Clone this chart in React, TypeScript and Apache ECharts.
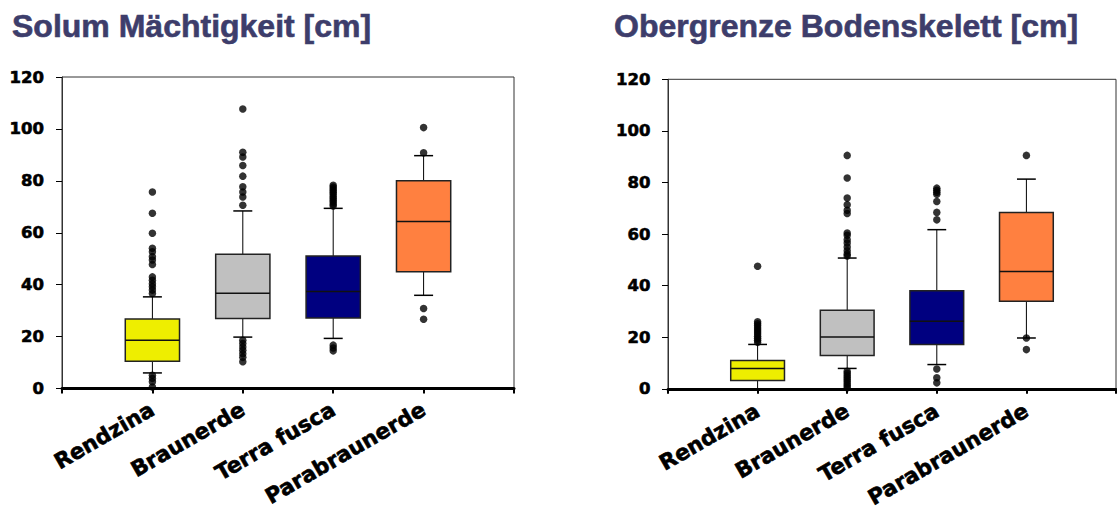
import React, { useEffect, useRef } from "react";
import * as echarts from "echarts";

// Categories (first and last are empty slots, as in the original Excel-style box plot)
const categories = ["", "Rendzina", "Braunerde", "Terra fusca", "Parabraunerde", ""];

// Box statistics: [min (lower whisker), Q1, median, Q3, max (upper whisker)]
const solumBoxes = [
  [6, 10.5, 18.6, 26.8, 35.3],
  [19.8, 27, 36.7, 51.7, 68.4],
  [19.3, 27.2, 37.4, 51, 69.4],
  [35.9, 45, 64.3, 80, 89.7],
];
const solumOutliers = [
  [75.7, 67.5, 59.8, 54, 52.7, 50.8, 49.5, 47.8, 43, 41.7, 40.4, 39.2, 37.9, 36.6, 5.1, 3.9, 2.6, 0.6],
  [107.7, 91, 89.2, 85.9, 81.8, 77.7, 75.7, 73.8, 70.6, 18.6, 17.3, 16, 14.7, 13.4, 12, 10.3],
  [78.3, 77.6, 76.9, 76.2, 75.5, 74.8, 74, 73.3, 72.5, 71.8, 71, 70.3, 16.7, 15.6, 14.5],
  [100.5, 90.8, 30.8, 26.7],
];

const skelettBoxes = [
  [0, 3.2, 7.9, 11, 17.2],
  [7.9, 12.9, 20.1, 30.5, 50.7],
  [9.4, 17.2, 26.2, 38, 61.7],
  [19.7, 33.9, 45.5, 68.4, 81.3],
];
const skelettOutliers = [
  [47.5, 26, 25.2, 24.4, 23.6, 22.8, 22, 21.2, 20.4, 19.6, 18.8, 18],
  [90.5, 81.7, 74, 71.4, 69.2, 68, 60.4, 59.5, 57.8, 56.5, 55, 53.5, 52.3, 51.5, 6.8, 6, 5.2, 4.4, 3.6, 2.8, 2, 1.2, 0.4],
  [77.8, 77, 76.2, 75.4, 72.6, 68.4, 65.5, 7.7, 4.3, 2.3],
  [90.5, 19.7, 15.2],
];

const titles = ["Solum Mächtigkeit [cm]", "Obergrenze Bodenskelett [cm]"];
const yTicks = { min: 0, max: 120, interval: 20 };

const boxColors = ["#EEEE00", "#C0C0C0", "#000080", "#FF8040"];

function renderBox(params: any, api: any) {
  const x = api.value(0);
  const lo = api.coord([x, api.value(1)]);
  const q1 = api.coord([x, api.value(2)]);
  const med = api.coord([x, api.value(3)]);
  const q3 = api.coord([x, api.value(4)]);
  const hi = api.coord([x, api.value(5)]);
  const band = api.size([1, 0])[0];
  const bw = band * 0.6;
  const cw = band * 0.21;
  const cx = lo[0];
  const ls = { stroke: "#000", lineWidth: 1 };
  return {
    type: "group",
    children: [
      { type: "line", shape: { x1: cx, y1: hi[1], x2: cx, y2: q3[1] }, style: ls },
      { type: "line", shape: { x1: cx, y1: q1[1], x2: cx, y2: lo[1] }, style: ls },
      { type: "line", shape: { x1: cx - cw / 2, y1: hi[1], x2: cx + cw / 2, y2: hi[1] }, style: { stroke: "#000", lineWidth: 1.5 } },
      { type: "line", shape: { x1: cx - cw / 2, y1: lo[1], x2: cx + cw / 2, y2: lo[1] }, style: { stroke: "#000", lineWidth: 1.5 } },
      {
        type: "rect",
        shape: { x: cx - bw / 2, y: q3[1], width: bw, height: q1[1] - q3[1] },
        style: { fill: boxColors[params.dataIndex], stroke: "#222", lineWidth: 1.5 },
      },
      { type: "line", shape: { x1: cx - bw / 2, y1: med[1], x2: cx + bw / 2, y2: med[1] }, style: { stroke: "#111", lineWidth: 1.5 } },
    ],
  };
}

function boxData(boxes: number[][]) {
  return boxes.map((b, i) => [i + 1, ...b]);
}
function outlierData(outs: number[][]) {
  return outs.flatMap((arr, i) => arr.map((v) => [i + 1, v]));
}

function xAxisFor(gridIndex: number, margin: number) {
  return {
    gridIndex,
    type: "category",
    data: categories,
    boundaryGap: false,
    axisLine: { show: true, lineStyle: { color: "#000", width: 3 } },
    axisTick: { show: true, length: 5, lineStyle: { color: "#000", width: 2 } },
    axisLabel: {
      interval: 0,
      rotate: 30,
      margin,
      fontFamily: "DejaVu Sans",
      fontWeight: "bold",
      fontSize: 21.5,
      color: "#000",
      textBorderColor: "#000",
      textBorderWidth: 0.6,
    },
    splitLine: { show: false },
  };
}

function yAxisFor(gridIndex: number, margin: number) {
  return {
    gridIndex,
    type: "value",
    min: yTicks.min,
    max: yTicks.max,
    interval: yTicks.interval,
    axisLine: { show: true, lineStyle: { color: "#333", width: 1 } },
    axisTick: { show: true, length: 6, lineStyle: { color: "#000", width: 1 } },
    axisLabel: {
      margin,
      fontFamily: "DejaVu Sans",
      fontWeight: "bold",
      fontSize: 16.5,
      color: "#000",
      textBorderColor: "#000",
      textBorderWidth: 0.6,
      padding: [0, 0, 7, 0],
    },
    splitLine: { show: false },
  };
}

export default function App() {
  const ref = useRef<HTMLDivElement>(null);
  useEffect(() => {
    if (!ref.current) return;
    const chart = echarts.init(ref.current, null, { renderer: "svg" });
    const titleStyle = {
      fontFamily: "Liberation Sans",
      fontWeight: "bold",
      fontSize: 32,
      color: "#3d3d6b",
      textBorderColor: "#3d3d6b",
      textBorderWidth: 0.6,
    };
    chart.setOption({
      animation: false,
      backgroundColor: "#fff",
      title: [
        { text: titles[0], left: 12, top: 10, padding: 0, textStyle: titleStyle },
        { text: titles[1], left: 614, top: 10, padding: 0, textStyle: titleStyle },
      ],
      grid: [
        { left: 62, top: 77, width: 452, height: 311.5, show: true, borderColor: "#333", borderWidth: 1, outerBoundsMode: "none", containLabel: false },
        { left: 668, top: 79.3, width: 448, height: 309.5, show: true, borderColor: "#333", borderWidth: 1, outerBoundsMode: "none", containLabel: false },
      ],
      xAxis: [xAxisFor(0, 19), xAxisFor(1, 20)],
      yAxis: [yAxisFor(0, 18), yAxisFor(1, 17.5)],
      series: [
        {
          type: "custom",
          xAxisIndex: 0,
          yAxisIndex: 0,
          renderItem: renderBox,
          encode: { x: 0, y: [1, 2, 3, 4, 5] },
          data: boxData(solumBoxes),
          z: 2,
        },
        {
          type: "scatter",
          xAxisIndex: 0,
          yAxisIndex: 0,
          symbol: "circle",
          symbolSize: 7.5,
          itemStyle: { color: "#000" },
          data: outlierData(solumOutliers),
          z: 3,
        },
        {
          type: "custom",
          xAxisIndex: 1,
          yAxisIndex: 1,
          renderItem: renderBox,
          encode: { x: 0, y: [1, 2, 3, 4, 5] },
          data: boxData(skelettBoxes),
          z: 2,
        },
        {
          type: "scatter",
          xAxisIndex: 1,
          yAxisIndex: 1,
          symbol: "circle",
          symbolSize: 7.5,
          itemStyle: { color: "#000" },
          data: outlierData(skelettOutliers),
          z: 3,
        },
      ],
    });
    return () => chart.dispose();
  }, []);
  return (
    <div
      ref={ref}
      style={{ position: "absolute", left: 0, top: 0, width: 1117, height: 509 }}
    />
  );
}
